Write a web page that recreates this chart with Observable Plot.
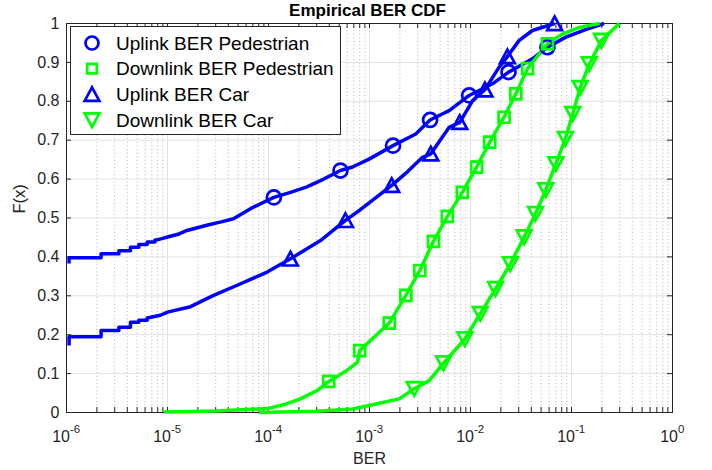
<!DOCTYPE html>
<html><head><meta charset="utf-8">
<script src="https://cdn.jsdelivr.net/npm/d3@7"></script>
<script src="https://cdn.jsdelivr.net/npm/@observablehq/plot@0.6"></script>
<style>
html,body{margin:0;padding:0;background:#fff;}
#chart{width:712px;height:470px;}
</style></head><body><div id="chart"></div>
<script>
// ---- data ----
const seriesNames = ["Uplink BER Pedestrian", "Downlink BER Pedestrian", "Uplink BER Car", "Downlink BER Car"];

const upPedBER = [1.06e-6,1.06e-6,2.2e-6,2.2e-6,3.3e-6,3.3e-6,4.3e-6,4.3e-6,5.2e-6,5.2e-6,6.3e-6,6.3e-6,7.5e-6,7.5e-6,8.8e-6,1e-5,1.3e-5,1.56e-5,2.5e-5,3.4e-5,4.5e-5,7.1e-5,1.13e-4,1.65e-4,2.4e-4,3.27e-4,5.16e-4,6.8e-4,1.0e-3,1.71e-3,2.87e-3,3.98e-3,5.3e-3,6.15e-3,9.7e-3,1.65e-2,2.38e-2,4.1e-2,5.78e-2,8.8e-2,0.14,0.21];
const upPedF   = [0.383,0.398,0.398,0.408,0.408,0.416,0.416,0.425,0.425,0.432,0.432,0.438,0.438,0.443,0.447,0.451,0.459,0.468,0.482,0.49,0.498,0.528,0.553,0.566,0.58,0.596,0.622,0.631,0.652,0.686,0.716,0.752,0.768,0.776,0.815,0.845,0.875,0.909,0.939,0.965,0.985,1.0];
const upPedMarkBER = [1.13e-4,5.16e-4,1.71e-3,3.98e-3,9.7e-3,2.38e-2,5.78e-2];
const upPedMarkF   = [0.553,0.622,0.686,0.752,0.815,0.875,0.939];

const upCarBER = [1.06e-6,1.06e-6,2.2e-6,2.2e-6,3.3e-6,3.3e-6,4.3e-6,4.3e-6,5.2e-6,5.2e-6,6.3e-6,6.3e-6,8.5e-6,1e-5,1.69e-5,2.86e-5,5.3e-5,9.7e-5,1.65e-4,3.27e-4,5.78e-4,8e-4,1.35e-3,1.66e-3,2.4e-3,3.35e-3,4.05e-3,6.15e-3,7.83e-3,1.05e-2,1.39e-2,1.92e-2,2.32e-2,3.02e-2,4.1e-2,6.8e-2];
const upCarF   = [0.172,0.195,0.195,0.211,0.211,0.219,0.219,0.232,0.232,0.237,0.237,0.243,0.25,0.258,0.272,0.301,0.331,0.361,0.395,0.442,0.494,0.52,0.566,0.584,0.62,0.656,0.665,0.733,0.746,0.802,0.83,0.888,0.915,0.956,0.982,1.0];
const upCarMarkBER = [1.65e-4,5.78e-4,1.66e-3,4.05e-3,7.83e-3,1.39e-2,2.32e-2,6.8e-2];
const upCarMarkF   = [0.395,0.494,0.584,0.665,0.746,0.83,0.915,1.0];

const dnPedBER = [9.2e-6,3e-5,9.7e-5,1.5e-4,2.07e-4,3.05e-4,3.95e-4,5.97e-4,7.6e-4,8.0e-4,1.57e-3,2.29e-3,3.15e-3,4.3e-3,5.9e-3,8.3e-3,1.15e-2,1.55e-2,2.15e-2,2.81e-2,3.67e-2,5.78e-2,8e-2,0.12,0.19];
const dnPedF   = [0.001,0.004,0.01,0.022,0.035,0.057,0.08,0.108,0.129,0.159,0.23,0.301,0.365,0.44,0.504,0.566,0.631,0.695,0.759,0.819,0.884,0.948,0.972,0.99,1.0];
const dnPedMarkBER = [3.95e-4,8.0e-4,1.57e-3,2.29e-3,3.15e-3,4.3e-3,5.9e-3,8.3e-3,1.15e-2,1.55e-2,2.15e-2,2.81e-2,3.67e-2,5.78e-2];
const dnPedMarkF   = [0.08,0.159,0.23,0.301,0.365,0.44,0.504,0.566,0.631,0.695,0.759,0.819,0.884,0.948];

const dnCarBER = [8e-5,3e-4,6.8e-4,1.16e-3,1.97e-3,2.77e-3,3.9e-3,5.4e-3,8.8e-3,1.25e-2,1.77e-2,2.48e-2,3.4e-2,4.4e-2,5.56e-2,7.0e-2,8.7e-2,0.103,0.122,0.15,0.198,0.297];
const dnCarF   = [0.0,0.003,0.009,0.022,0.035,0.061,0.082,0.127,0.189,0.254,0.318,0.382,0.451,0.511,0.572,0.639,0.704,0.768,0.835,0.896,0.956,1.0];
const dnCarMarkBER = [2.77e-3,5.4e-3,8.8e-3,1.25e-2,1.77e-2,2.48e-2,3.4e-2,4.4e-2,5.56e-2,7.0e-2,8.7e-2,0.103,0.122,0.15,0.198];
const dnCarMarkF   = [0.061,0.127,0.189,0.254,0.318,0.382,0.451,0.511,0.572,0.639,0.704,0.768,0.835,0.896,0.956];

// ---- ticks ----
const decades = [1e-6,1e-5,1e-4,1e-3,1e-2,1e-1,1];
const decadeExponents = ["-6","-5","-4","-3","-2","-1","0"];
const minorMultipliers = [2,3,4,5,6,7,8,9];
const yTicks = [0,0.1,0.2,0.3,0.4,0.5,0.6,0.7,0.8,0.9,1];
const yTickLabels = ["0","0.1","0.2","0.3","0.4","0.5","0.6","0.7","0.8","0.9","1"];

const minorTicks = decades.slice(0,-1).flatMap(d => minorMultipliers.map(m => m*d));
const allXTicks = decades.concat(minorTicks);

// ---- layout / style ----
const W = 712, H = 470, mL = 66, mR = 40, mT = 23, mB = 58;
const FW = W - mL - mR, FH = H - mT - mB;
const BLUE = "#0000ff", GREEN = "#00ff00", INK = "#262626";
const FONT = "'Liberation Sans', Arial, Helvetica, sans-serif";
const LW = 3.5, MW = 2.7, TL = 5;

// custom marker symbols (MATLAB-like)
const mk = f => ({draw(c, size){ const r = Math.sqrt(size/Math.PI); f(c, r); }});
const symCircle = mk((c,r)=>{ c.moveTo(r,0); c.arc(0,0,r,0,2*Math.PI); c.closePath(); });
const symSquare = mk((c,r)=>{ c.moveTo(-r,-r); c.lineTo(r,-r); c.lineTo(r,r); c.lineTo(-r,r); c.closePath(); });
const symTriUp  = mk((c,r)=>{ c.moveTo(0,-r); c.lineTo(1.05*r,r*0.95); c.lineTo(-1.05*r,r*0.95); c.closePath(); });
const symTriDn  = mk((c,r)=>{ c.moveTo(0,r); c.lineTo(1.05*r,-r*0.95); c.lineTo(-1.05*r,-r*0.95); c.closePath(); });

const idx = a => a.map((_, i) => i);
const lineMark = (X, Y, color) => Plot.line(idx(X), {x: i => X[i], y: i => Y[i], stroke: color, strokeWidth: LW, strokeLinejoin: "round", strokeLinecap: "butt"});
const dotMark = (X, Y, color, sym, r) => Plot.dot(idx(X), {x: i => X[i], y: i => Y[i], stroke: color, strokeWidth: MW, fill: "none", symbol: sym, r: r, strokeLinejoin: "miter"});

const labelData = decades.map((v, i) => ({v, e: decadeExponents[i]}));
const negLabels = labelData.filter(d => d.e !== "0");
const zeroLabels = labelData.filter(d => d.e === "0");

const plot = Plot.plot({
  width: W, height: H,
  marginLeft: mL, marginRight: mR, marginTop: mT, marginBottom: mB,
  x: {type: "log", domain: [1e-6, 1], axis: null},
  y: {domain: [0, 1], axis: null},
  style: {fontFamily: FONT, color: INK, background: "white", overflow: "visible"},
  marks: [
    // grid
    Plot.ruleX(minorTicks, {x: d => d, stroke: "#b4b4b4", strokeWidth: 1, strokeDasharray: "1,2.6"}),
    Plot.ruleX(decades, {x: d => d, stroke: "#e2e2e2", strokeWidth: 1}),
    Plot.ruleY(yTicks, {y: d => d, stroke: "#e2e2e2", strokeWidth: 1}),
    // inward ticks
    Plot.tickX(allXTicks, {x: d => d, insetTop: FH - TL, stroke: INK, strokeWidth: 1}),
    Plot.tickX(allXTicks, {x: d => d, insetBottom: FH - TL, stroke: INK, strokeWidth: 1}),
    Plot.tickY(yTicks, {y: d => d, insetRight: FW - TL, stroke: INK, strokeWidth: 1}),
    Plot.tickY(yTicks, {y: d => d, insetLeft: FW - TL, stroke: INK, strokeWidth: 1}),
    Plot.frame({stroke: INK, strokeWidth: 1}),
    // data
    lineMark(upPedBER, upPedF, BLUE),
    lineMark(upCarBER, upCarF, BLUE),
    lineMark(dnPedBER, dnPedF, GREEN),
    lineMark(dnCarBER, dnCarF, GREEN),
    dotMark(upPedMarkBER, upPedMarkF, BLUE, symCircle, 7),
    dotMark(dnPedMarkBER, dnPedMarkF, GREEN, symSquare, 5.5),
    dotMark(upCarMarkBER, upCarMarkF, BLUE, symTriUp, 7),
    dotMark(dnCarMarkBER, dnCarMarkF, GREEN, symTriDn, 7),
    // tick labels
    Plot.text(yTicks, {y: d => d, text: (d, i) => yTickLabels[i], frameAnchor: "left", textAnchor: "end", dx: -7, fontSize: 16}),
    Plot.text(negLabels, {x: "v", text: () => "10", frameAnchor: "bottom", lineAnchor: "bottom", textAnchor: "end", dx: 3.5, dy: 29, fontSize: 16}),
    Plot.text(negLabels, {x: "v", text: "e", frameAnchor: "bottom", lineAnchor: "bottom", textAnchor: "start", dx: 3.5, dy: 20.5, fontSize: 11.5}),
    Plot.text(zeroLabels, {x: "v", text: () => "10", frameAnchor: "bottom", lineAnchor: "bottom", textAnchor: "end", dx: 5.5, dy: 29, fontSize: 16}),
    Plot.text(zeroLabels, {x: "v", text: "e", frameAnchor: "bottom", lineAnchor: "bottom", textAnchor: "start", dx: 5.5, dy: 20.5, fontSize: 11.5}),
    // axis labels and title
    Plot.text(["BER"], {text: d => d, frameAnchor: "bottom", lineAnchor: "bottom", dy: 51, fontSize: 16}),
    Plot.text(["F(x)"], {text: d => d, frameAnchor: "left", lineAnchor: "bottom", rotate: -90, dx: -42, dy: -4.5, fontSize: 16.5}),
    Plot.text(["Empirical BER CDF"], {text: d => d, frameAnchor: "top", lineAnchor: "bottom", dy: -8, dx: -2, fontSize: 17, fontWeight: "bold", fill: "#000"})
  ]
});

// ---- legend (MATLAB style box, upper left) ----
const svg = d3.select(plot);
const lg = svg.append("g").attr("font-family", FONT).attr("text-anchor", "start");
lg.append("rect").attr("x", 70.5).attr("y", 26.5).attr("width", 270).attr("height", 108)
  .attr("fill", "white").attr("stroke", INK).attr("stroke-width", 1);
const legendSyms = [[symCircle, BLUE, 6.5], [symSquare, GREEN, 4.8], [symTriUp, BLUE, 7], [symTriDn, GREEN, 7]];
const legendRows = [43, 68.6, 94.3, 120];
seriesNames.forEach((name, i) => {
  const [sym, color, r] = legendSyms[i];
  lg.append("path").attr("d", d3.symbol(sym, Math.PI * r * r)())
    .attr("transform", `translate(92,${legendRows[i]})`)
    .attr("fill", "none").attr("stroke", color).attr("stroke-width", MW);
  lg.append("text").attr("x", 116).attr("y", legendRows[i] + 6.6)
    .attr("text-anchor", "start")
    .attr("font-size", 19).attr("fill", "#000").text(name);
});

document.getElementById("chart").appendChild(plot);
</script>
</body></html>
